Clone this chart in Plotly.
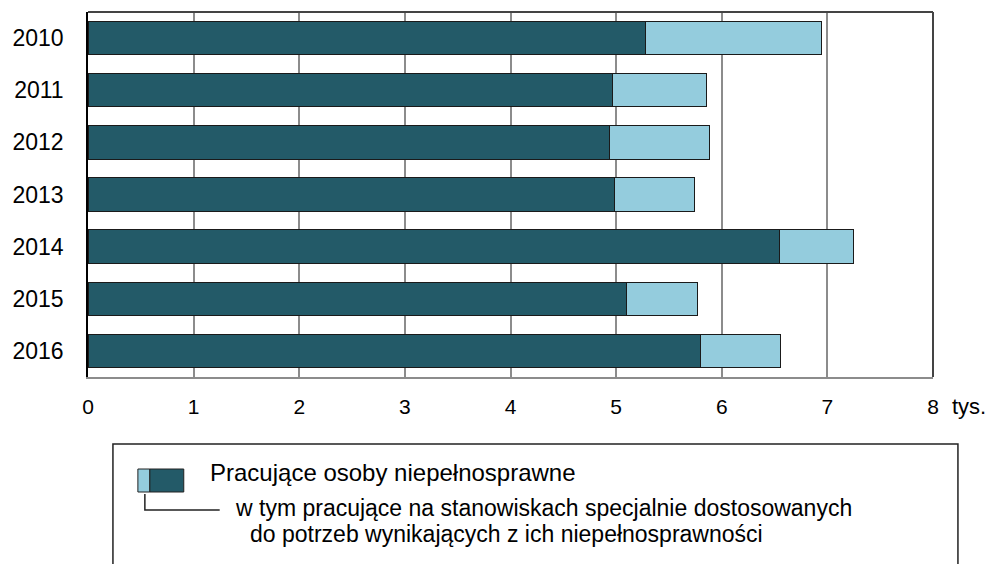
import plotly.graph_objects as go

years = ["2010", "2011", "2012", "2013", "2014", "2015", "2016"]
total = [6.94, 5.86, 5.88, 5.74, 7.25, 5.77, 6.56]
special = [5.28, 4.97, 4.94, 4.98, 6.55, 5.10, 5.80]
rest = [round(t - s, 2) for t, s in zip(total, special)]
x_ticks = [0, 1, 2, 3, 4, 5, 6, 7, 8]

DARK = "#235a68"
LIGHT = "#94ccdd"
FONT = "Liberation Sans, Arial, sans-serif"

OFF = 8  # page body margin
W, H = 995 - OFF, 564 - OFF
L, R, T, B = 86 - OFF, 933 - OFF, 12 - OFF, 377 - OFF


def px(x):
    return (x - OFF - L) / (R - L)


def py(y):
    return (B - (y - OFF)) / (B - T)


fig = go.Figure()
fig.add_trace(go.Bar(y=years, x=special, orientation="h", marker=dict(color=DARK, line=dict(color="#1a1a1a", width=1)),
                     width=0.64, hoverinfo="skip", name="w tym"))
fig.add_trace(go.Bar(y=years, x=rest, orientation="h", marker=dict(color=LIGHT, line=dict(color="#1a1a1a", width=1)),
                     width=0.64, hoverinfo="skip", name="ogółem"))

fig.update_layout(
    width=W, height=H,
    barmode="stack",
    showlegend=False,
    paper_bgcolor="white", plot_bgcolor="white",
    margin=dict(l=L, r=W - R, t=T, b=H - B, pad=0),
    font=dict(family=FONT, size=22, color="#000"),
    xaxis=dict(range=[0, 8], tickvals=x_ticks, ticktext=[str(v) for v in x_ticks],
               showgrid=True, gridcolor="#8c8c8c", gridwidth=2, zeroline=False,
               showline=True, linecolor="#8c8c8c", linewidth=2, ticks="",
               tickfont=dict(size=21),
               ticklabelstandoff=10, fixedrange=True),
    yaxis=dict(categoryorder="array", categoryarray=years, autorange="reversed",
               showgrid=False, zeroline=False, showline=True, linecolor="#000", linewidth=1.5,
               tickfont=dict(size=23),
               ticks="", ticklabelstandoff=18, fixedrange=True),
)

# top and right frame
fig.add_shape(type="line", xref="paper", yref="paper", x0=0, x1=1, y0=1, y1=1,
              line=dict(color="#444", width=2))
fig.add_shape(type="line", xref="paper", yref="paper", x0=1, x1=1, y0=0, y1=1,
              line=dict(color="#444", width=2))

# unit label
fig.add_annotation(text="tys.", xref="paper", yref="paper", x=px(950), y=py(407),
                   xanchor="left", yanchor="middle", showarrow=False, font=dict(size=22))

# legend box
fig.add_shape(type="path", xref="paper", yref="paper",
              path=f"M {px(111)} {py(580)} L {px(111)} {py(444)} L {px(958)} {py(444)} L {px(958)} {py(580)}",
              line=dict(color="#222", width=1.5))
# swatch
fig.add_shape(type="rect", xref="paper", yref="paper", x0=px(136), x1=px(148), y0=py(492), y1=py(469),
              fillcolor=LIGHT, line=dict(color="#222", width=1))
fig.add_shape(type="rect", xref="paper", yref="paper", x0=px(148), x1=px(182), y0=py(492), y1=py(469),
              fillcolor=DARK, line=dict(color="#222", width=1))
# connector
fig.add_shape(type="path", xref="paper", yref="paper",
              path=f"M {px(143)} {py(494)} L {px(143)} {py(510)} L {px(218)} {py(510)}",
              line=dict(color="#222", width=1.5))

fig.add_annotation(text="Pracujące osoby niepełnosprawne", xref="paper", yref="paper",
                   x=px(206), y=py(472), xanchor="left", yanchor="middle", showarrow=False,
                   font=dict(size=24))
fig.add_annotation(text="w tym pracujące na stanowiskach specjalnie dostosowanych", xref="paper", yref="paper",
                   x=px(231), y=py(508), xanchor="left", yanchor="middle", showarrow=False,
                   font=dict(size=23))
fig.add_annotation(text="do potrzeb wynikających z ich niepełnosprawności", xref="paper", yref="paper",
                   x=px(246), y=py(534), xanchor="left", yanchor="middle", showarrow=False,
                   font=dict(size=23))

fig.write_html("out.html")
